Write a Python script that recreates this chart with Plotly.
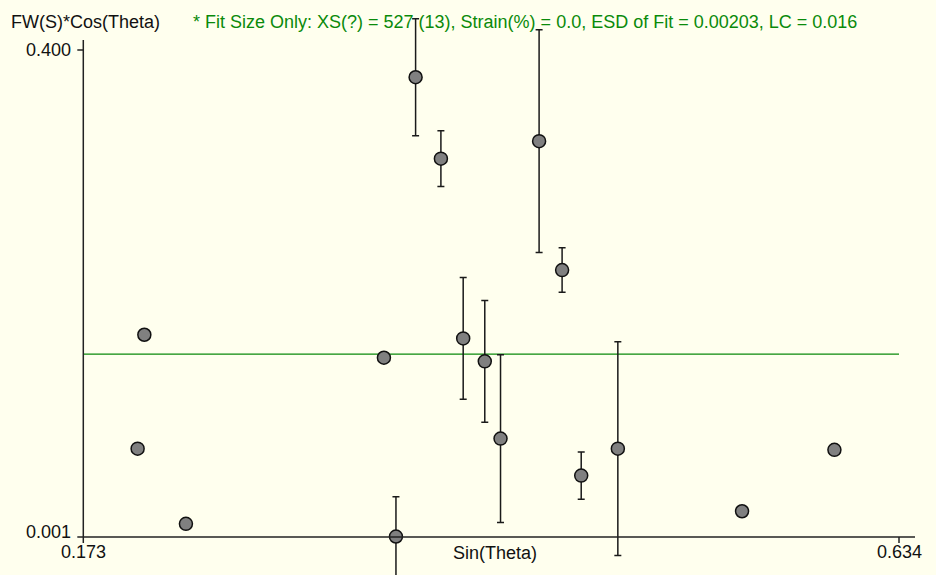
import plotly.graph_objects as go

# Williamson-Hall style data: Sin(Theta) vs FW(S)*Cos(Theta)
sin_theta = [0.2075, 0.2037, 0.2310, 0.3429, 0.3497, 0.3608, 0.3751, 0.3877,
             0.3999, 0.4088, 0.4306, 0.4436, 0.4544, 0.4751, 0.5453, 0.5975]
fw_cos = [0.1667, 0.0734, 0.0118, 0.1479, 0.0014, 0.3777, 0.3110, 0.1637,
          0.1449, 0.0816, 0.3253, 0.2197, 0.0513, 0.0734, 0.0221, 0.0724]
fw_err = [0.0, 0.0, 0.0, 0.004, 0.0326, 0.048, 0.0229, 0.0499,
          0.0498, 0.0687, 0.0912, 0.0182, 0.0193, 0.0876, 0.0, 0.0]

# Size-only fit (constant line)
fit_x = [0.173, 0.634]
fit_y = [0.1508, 0.1508]

x_ticks = [0.173, 0.634]
y_ticks = [0.001, 0.400]
x_tick_text = ["0.173", "0.634"]
y_tick_text = ["0.001", "0.400"]

fit_text = ("* Fit Size Only: XS(?) = 527 (13), Strain(%) = 0.0, "
            "ESD of Fit = 0.00203, LC = 0.016")

W, H = 936, 575
BG = "#FFFFEE"
GREEN = "#0A8A0A"
INK = "#111111"
AXIS = "#222222"
FONT = "Liberation Sans, Arial, sans-serif"

# Pixel frame of the axes: tick values land on these pixel positions
X0_PX, X1_PX = 83.3, 899.0      # x of 0.173 and 0.634
Y0_PX, Y1_PX = 537.0, 50.0      # y of 0.001 and 0.400
kx = (x_ticks[1] - x_ticks[0]) / (X1_PX - X0_PX)   # data units per pixel
ky = (y_ticks[1] - y_ticks[0]) / (Y0_PX - Y1_PX)

x_range = [x_ticks[0] - X0_PX * kx, x_ticks[1] + (W - X1_PX) * kx]
y_range = [y_ticks[0] - (H - Y0_PX) * ky, y_ticks[1] + Y1_PX * ky]

# Axis lines run a little past the last tick
x_axis_end = x_ticks[0] + (915 - X0_PX) * kx
y_axis_end = y_ticks[1] + 10 * ky

fig = go.Figure()

fig.add_trace(go.Scatter(
    x=fit_x, y=fit_y, mode="lines",
    line=dict(color=GREEN, width=1.3),
    hoverinfo="skip", showlegend=False,
))

fig.add_trace(go.Scatter(
    x=sin_theta, y=fw_cos, mode="markers",
    marker=dict(size=13, color="#808080", line=dict(color=INK, width=1.5)),
    error_y=dict(type="data", array=fw_err, visible=True,
                 color="#1a1a1a", thickness=1.5, width=3.5),
    cliponaxis=False, showlegend=False,
))

shapes = [
    dict(type="line", xref="x", yref="y", x0=x_ticks[0], x1=x_axis_end,
         y0=y_ticks[0], y1=y_ticks[0], line=dict(color=AXIS, width=1.5)),
    dict(type="line", xref="x", yref="y", x0=x_ticks[0], x1=x_ticks[0],
         y0=y_ticks[0], y1=y_axis_end, line=dict(color=AXIS, width=1.5)),
]
for xv in x_ticks:
    shapes.append(dict(type="line", xref="x", yref="y", x0=xv, x1=xv,
                       y0=y_ticks[0], y1=y_ticks[0] - 6 * ky,
                       line=dict(color=AXIS, width=1.5)))
for yv in y_ticks:
    shapes.append(dict(type="line", xref="x", yref="y", x0=x_ticks[0],
                       x1=x_ticks[0] - 6 * kx, y0=yv, y1=yv,
                       line=dict(color=AXIS, width=1.5)))

annotations = []
for xv, txt in zip(x_ticks, x_tick_text):
    annotations.append(dict(text=txt, xref="x", yref="y", x=xv,
                            y=y_ticks[0] - 15 * ky, xanchor="center",
                            yanchor="middle", showarrow=False))
for yv, txt in zip(y_ticks, y_tick_text):
    shift = 5 * ky if yv == y_ticks[0] else 0
    annotations.append(dict(text=txt, xref="x", yref="y",
                            x=x_ticks[0] - 10 * kx, y=yv + shift,
                            xanchor="right", yanchor="middle",
                            showarrow=False))
annotations += [
    dict(text="FW(S)*Cos(Theta)", xref="paper", yref="paper",
         x=9 / W, y=1 - 22 / H, xanchor="left", yanchor="middle",
         showarrow=False),
    dict(text=fit_text, xref="paper", yref="paper",
         x=191 / W, y=1 - 22 / H, xanchor="left", yanchor="middle",
         showarrow=False, font=dict(color=GREEN)),
    dict(text="Sin(Theta)", xref="paper", yref="paper",
         x=495 / W, y=1 - 553 / H, xanchor="center", yanchor="middle",
         showarrow=False),
]

fig.update_layout(
    width=W, height=H,
    margin=dict(l=0, r=0, t=0, b=0, pad=0),
    paper_bgcolor=BG, plot_bgcolor=BG,
    font=dict(family=FONT, size=18, color=INK),
    xaxis=dict(range=x_range, visible=False, showgrid=False, zeroline=False),
    yaxis=dict(range=y_range, visible=False, showgrid=False, zeroline=False),
    shapes=shapes,
    annotations=annotations,
)

fig.write_html("out.html")
